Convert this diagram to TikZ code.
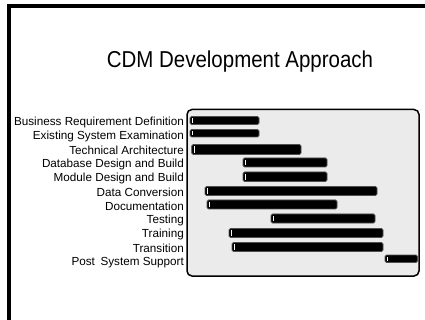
\documentclass[tikz,border=0pt]{standalone}
\usepackage{fontspec}
\setmainfont{Liberation Sans}
\definecolor{panelgray}{HTML}{EBEBEB}
\definecolor{baredge}{HTML}{505050}
\begin{document}
\begin{tikzpicture}[x=1pt,y=-1pt,
  lbl/.style={anchor=east,inner sep=0pt,font=\fontsize{11.7}{13}\selectfont},
  bar/.style={fill=black,draw=baredge,line width=0.8pt,rounded corners=1.5pt},
  tick/.style={draw=white,line width=0.5pt},
  panel/.style={fill=panelgray,draw=black,line width=1.5pt,rounded corners=5pt},
  frame/.style={draw=black,line width=4pt}]
\useasboundingbox (0,0) rectangle (425,320);
\fill[white] (0,0) rectangle (425,320);
\draw[frame] (9.2,320) -- (9.2,6) -- (425,6);
\node[inner sep=0pt,xscale=0.89,font=\fontsize{23}{26}\selectfont] (title) at (240,62) {CDM Development Approach};
\draw[panel] (187,109.5) rectangle (419,276);
% labels
\foreach \t [count=\i from 0] in {Business Requirement Definition,Existing System Examination,Technical Architecture,Database Design and Build,Module Design and Build,Data Conversion,Documentation,Testing,Training,Transition,Post\hspace{0.2em} System Support}
  \node[lbl] (l\i) at (184,122.7+14*\i) {\t};
% bars
\foreach \xa/\xb/\ya/\yb in {190/259/116.5/124.5, 190/259/129.5/137, 191.7/301/144.5/154.5, 243/327/158/167, 243/327/172/181.5, 205/377/186.5/195.5, 207/337/200/209, 271/375/214/223, 229/383/228.5/237.5, 232/383/242.5/251.5, 385/417.5/255/262.5}{
  \draw[bar] (\xa,\ya) rectangle (\xb,\yb);
  \draw[tick] (\xa+2.2,\ya+1.8) -- (\xa+2.2,\yb-1.8);
}
\end{tikzpicture}
\end{document}
